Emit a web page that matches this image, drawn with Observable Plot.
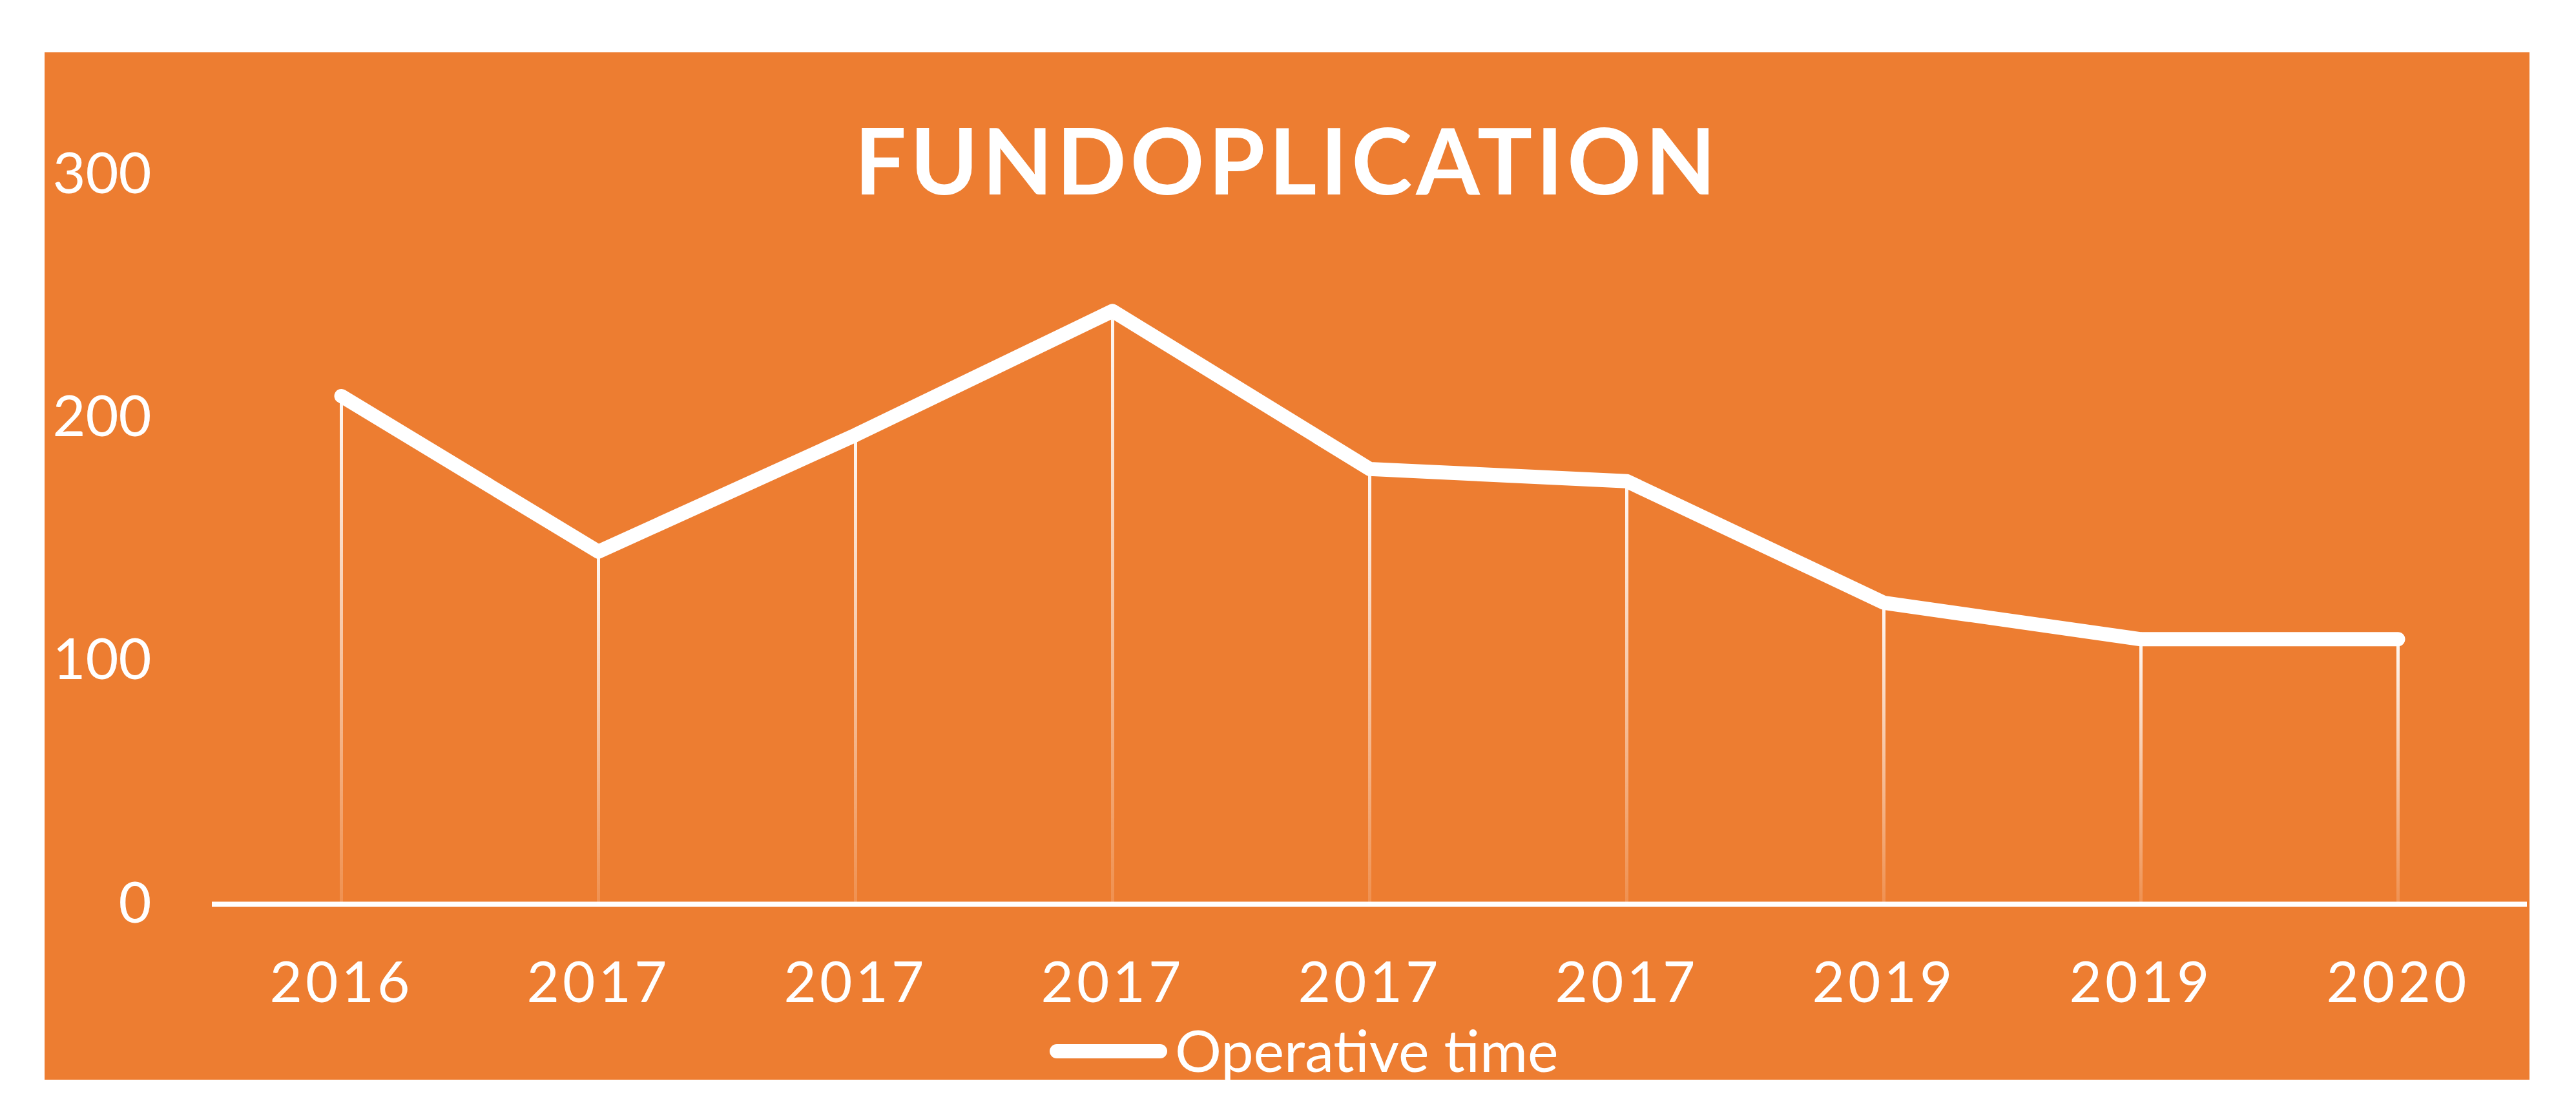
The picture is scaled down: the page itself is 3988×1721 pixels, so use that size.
<!DOCTYPE html>
<html>
<head>
<meta charset="utf-8">
<script src="https://cdn.jsdelivr.net/npm/d3@7"></script>
<script src="https://cdn.jsdelivr.net/npm/@observablehq/plot@0.6"></script>
<style>
  html, body { margin: 0; padding: 0; background: #ffffff; }
  body { width: 3988px; height: 1721px; position: relative; overflow: hidden; font-family: Lato, "Open Sans", sans-serif; }
  #card { position: absolute; left: 69px; top: 81px; width: 3847px; height: 1590px; background: #ED7D31; }
  #title { position: absolute; left: 0; top: 94px; width: 100%; text-align: center; color: #ffffff;
           font: 700 142px Lato, sans-serif; letter-spacing: 6px; line-height: 1; }
  #chart { position: absolute; left: 0; top: 0; }
  #chart svg g[aria-label="x-axis tick label"] text { letter-spacing: 5px; }
  #legend-swatch { position: absolute; left: 1556px; top: 1535px; width: 182px; height: 22px; border-radius: 11px; background: #ffffff; }
  #legend-text { position: absolute; left: 1750px; top: 1498px; color: #ffffff; font: 400 90px Lato, sans-serif; line-height: 1; white-space: nowrap; }
</style>
</head>
<body>
<div id="card">
  <div id="chart"></div>
  <div id="title">FUNDOPLICATION</div>
  <div id="legend-swatch"></div>
  <div id="legend-text">Operative time</div>
</div>
<script>
// ---- data ----
const categories = ["2016", "2017", "2017", "2017", "2017", "2017", "2019", "2019", "2020"];
const operativeTime = [209, 145, 193, 244, 179, 174, 124, 109, 109];
const yTicks = [0, 100, 200, 300];
const seriesName = "Operative time";

const data = categories.map((label, i) => ({i, label, value: operativeTime[i]}));

const chart = Plot.plot({
  width: 3847,
  height: 1490,
  marginTop: 189,
  marginBottom: 172,
  marginLeft: 259,
  marginRight: 4,
  style: {background: "transparent", color: "#ffffff", fontFamily: "Lato, sans-serif", overflow: "visible"},
  x: {type: "point", domain: d3.range(categories.length), padding: 0.5, label: null},
  y: {domain: [0, 300], label: null},
  marks: [
    Plot.ruleX(data, {x: "i", y1: 0, y2: "value", stroke: "#ffffff", strokeWidth: 5}),
    Plot.ruleY([0], {stroke: "#ffffff", strokeWidth: 8}),
    Plot.line(data, {x: "i", y: "value", stroke: "#ffffff", strokeWidth: 22,
                     strokeLinecap: "round", strokeLinejoin: "round", title: () => seriesName}),
    Plot.axisY({ticks: yTicks, tickSize: 0, tickPadding: 94, fontSize: 88, label: null}),
    Plot.axisX({tickSize: 0, tickPadding: 90, fontSize: 87, label: null, tickFormat: i => categories[i]})
  ]
});
document.getElementById("chart").appendChild(chart);

// gradient fade on the drop lines (white at the top, fading toward the axis)
const svg = d3.select(chart);
const defs = svg.insert("defs", ":first-child");
svg.selectAll('g[aria-label="rule"] line').each(function(d, k) {
  const el = d3.select(this);
  const y1 = +el.attr("y1"), y2 = +el.attr("y2");
  if (y1 === y2) return; // horizontal baseline
  const x = +el.attr("x1");
  const id = "drop-grad-" + k;
  const g = defs.append("linearGradient").attr("id", id).attr("gradientUnits", "userSpaceOnUse")
    .attr("x1", x).attr("x2", x).attr("y1", Math.min(y1, y2)).attr("y2", Math.max(y1, y2));
  g.append("stop").attr("offset", 0).attr("stop-color", "#ffffff").attr("stop-opacity", 0.95);
  g.append("stop").attr("offset", 1).attr("stop-color", "#ffffff").attr("stop-opacity", 0.15);
  el.attr("stroke", `url(#${id})`);
});
</script>
</body>
</html>
